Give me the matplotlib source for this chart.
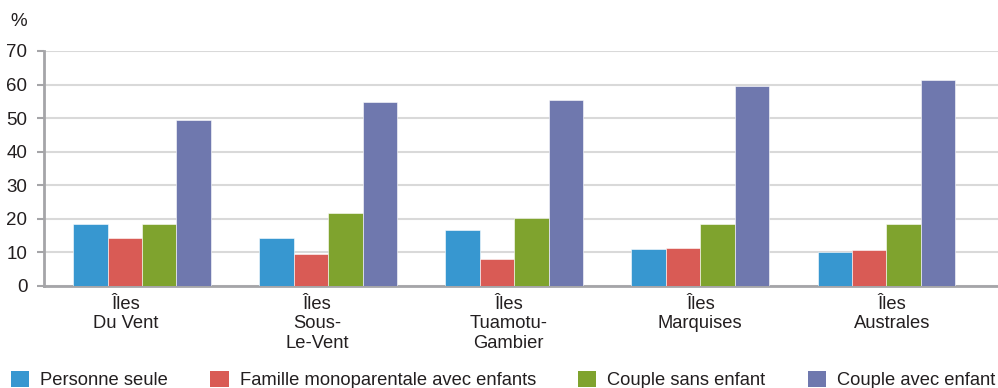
import numpy as np
import matplotlib.pyplot as plt
from matplotlib.patches import Patch

plt.rcParams['font.family'] = ['Liberation Sans', 'DejaVu Sans']

# Répartition des ménages par archipel (%)
archipels = ["Îles\nDu Vent", "Îles\nSous-\nLe-Vent", "Îles\nTuamotu-\nGambier",
             "Îles\nMarquises", "Îles\nAustrales"]
series = ["Personne seule", "Famille monoparentale avec enfants",
          "Couple sans enfant", "Couple avec enfant"]
personne_seule = [18.4, 14.4, 16.6, 11.0, 10.2]
famille_mono = [14.4, 9.5, 8.0, 11.3, 10.6]
couple_sans = [18.4, 21.7, 20.3, 18.4, 18.4]
couple_avec = [49.4, 54.8, 55.3, 59.7, 61.2]
yticks = [0, 10, 20, 30, 40, 50, 60, 70]

colors = ["#3797d0", "#d95b55", "#7fa32e", "#6f78ae"]
values = [personne_seule, famille_mono, couple_sans, couple_avec]

fig = plt.figure(figsize=(9.98, 3.88), dpi=100)
ax = fig.add_axes([0.0441, 0.263, 0.9559, 0.6057])

x = np.arange(len(archipels))
w = 0.185
for k, (vals, c) in enumerate(zip(values, colors)):
    ax.bar(x + (k - 1.5) * w, vals, width=w, color=c, edgecolor="#ffffff",
           linewidth=0.4, zorder=3)

ax.set_ylim(0, 70)
ax.set_xlim(-0.527, 4.6)
ax.set_yticks(yticks)
ax.yaxis.grid(True, color="#d9d9d9", linewidth=1.5, zorder=0)
ax.set_axisbelow(True)

for s in ["top", "right"]:
    ax.spines[s].set_visible(False)
for s in ["left", "bottom"]:
    ax.spines[s].set_color("#a5a5a8")
    ax.spines[s].set_linewidth(2)

ax.tick_params(axis="y", length=5, width=1.5, color="#a5a5a8", pad=7,
               labelsize=13.5, labelcolor="#231f20")
# étiquettes des archipels légèrement décalées vers la gauche
ax.set_xticks(x * 1.03 - 0.09)
ax.set_xticklabels(archipels, fontsize=13.2, color="#231f20", linespacing=1.2)
ax.tick_params(axis="x", length=0, pad=7)

fig.text(0.01, 0.945, "%", fontsize=13.5, color="#231f20", va="center")

handles = [Patch(facecolor=c, edgecolor="none") for c in colors]
fig.legend(handles, series, loc="upper left", bbox_to_anchor=(0.011, 0.045),
           ncol=4, frameon=False, fontsize=13.2, handlelength=1.0, handleheight=1.0,
           handletextpad=0.6, columnspacing=2.3, borderpad=0, borderaxespad=0,
           labelcolor="#231f20")

fig.savefig("out.png", dpi=100)
